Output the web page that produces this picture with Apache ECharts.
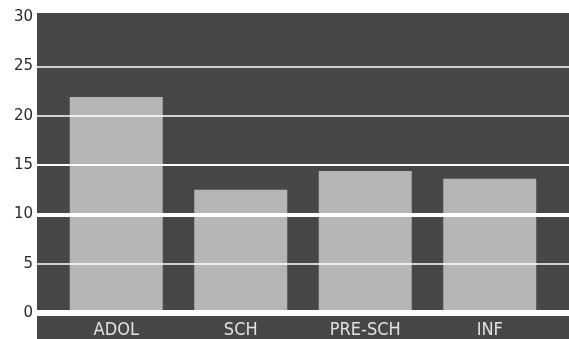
<!DOCTYPE html>
<html>
<head>
<meta charset="utf-8">
<script src="https://cdn.jsdelivr.net/npm/echarts@6/dist/echarts.min.js"></script>
<style>
html,body{margin:0;padding:0;background:#fff;}
#chart{width:569px;height:339px;}
</style>
</head>
<body>
<div id="chart"></div>
<script>
// Age groups and their values
const categories = ['ADOL', 'SCH', 'PRE-SCH', 'INF'];
const values = [21.9, 12.5, 14.4, 13.6];
const yTicks = [0, 5, 10, 15, 20, 25, 30];

const chart = echarts.init(document.getElementById('chart'), null, {renderer: 'canvas'});

// stroke width of each horizontal reference line
const lineWidths = {5: 1.5, 10: 4, 15: 2, 20: 1.5, 25: 1.5};

chart.setOption({
  animation: false,
  graphic: [{
    type: 'rect',
    z: -10,
    shape: {x: 37, y: 13, width: 532, height: 326},
    style: {fill: '#474747'}
  }],
  grid: [
    {left: 37, right: 0, top: 17, bottom: 26},
    {left: 54, right: 17, top: 17, bottom: 26}
  ],
  xAxis: [
    {
      gridIndex: 0, type: 'value', min: 0, max: 1, offset: 3, z: 10,
      axisLine: {show: true, lineStyle: {color: '#ffffff', width: 6}},
      axisTick: {show: false}, axisLabel: {show: false}, splitLine: {show: false}
    },
    {
      gridIndex: 1, type: 'category', data: categories,
      axisLine: {show: false}, axisTick: {show: false},
      axisLabel: {color: '#e2e2e2', fontFamily: '"Liberation Sans Narrow", "DejaVu Sans Condensed", sans-serif',
        fontSize: 18, margin: 8}
    }
  ],
  yAxis: [
    {
      gridIndex: 0, type: 'value', min: 0, max: 30, interval: 5,
      axisLine: {show: false}, axisTick: {show: false},
      axisLabel: {color: '#2a2a2a', fontFamily: 'DejaVu Sans', fontSize: 15, margin: 4,
        padding: [4, 0, 0, 0],
        formatter: v => yTicks.includes(v) ? String(v) : ''},
      splitLine: {show: false}
    },
    {
      gridIndex: 1, type: 'value', min: 0, max: 30, interval: 5,
      axisLine: {show: false}, axisTick: {show: false}, axisLabel: {show: false},
      splitLine: {show: false}
    }
  ],
  series: [
    {
      // horizontal reference lines spanning the whole plot area
      type: 'line', xAxisIndex: 0, yAxisIndex: 0, data: [], silent: true,
      markLine: {
        silent: true, symbol: 'none', label: {show: false},
        data: yTicks.filter(t => lineWidths[t]).map(t => ({
          yAxis: t, lineStyle: {color: '#ffffff', type: 'solid', width: lineWidths[t]}
        }))
      }
    },
    {
      type: 'bar', xAxisIndex: 1, yAxisIndex: 1, data: values,
      barWidth: 93, z: 3,
      itemStyle: {color: '#b6b6b6'}
    }
  ]
});
</script>
</body>
</html>
